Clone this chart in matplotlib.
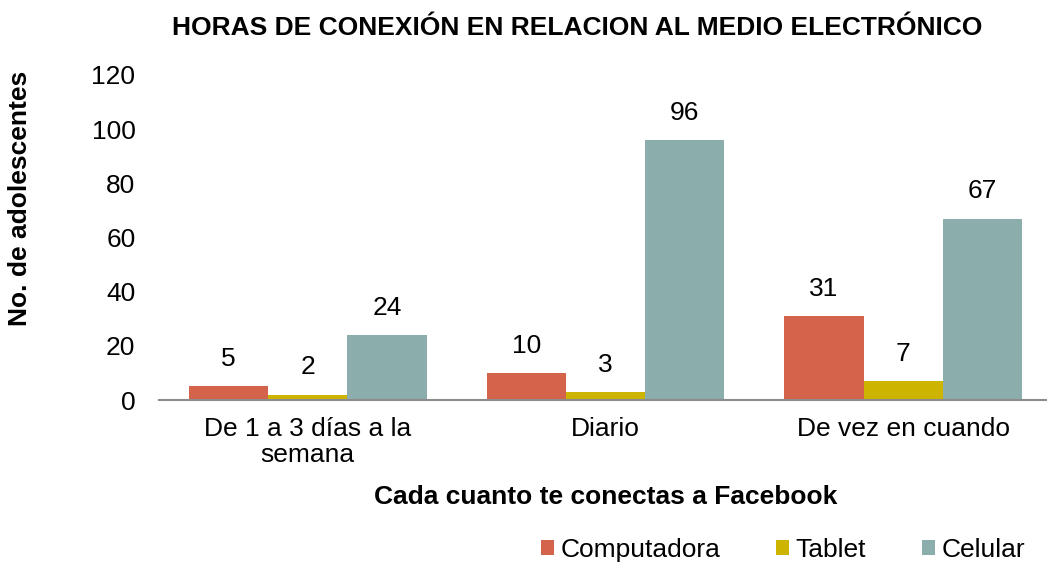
import matplotlib.pyplot as plt
import numpy as np

plt.rcParams['font.family'] = ['Liberation Sans', 'DejaVu Sans']

categories = ['De 1 a 3 días a la\nsemana', 'Diario', 'De vez en cuando']
series = ['Computadora', 'Tablet', 'Celular']
computadora = [5, 10, 31]
tablet = [2, 3, 7]
celular = [24, 96, 67]
colors = ['#D4634B', '#CCB400', '#8BAEAD']

fig = plt.figure(figsize=(10.47, 5.74), dpi=100)
ax = fig.add_axes([159 / 1047, 1 - 400 / 574, 893 / 1047, 325 / 574])

x = np.arange(len(categories))
w = 0.266
for i, (name, vals, c) in enumerate(zip(series, [computadora, tablet, celular], colors)):
    bars = ax.bar(x + (i - 1) * w, vals, w, color=c, label=name)
    for b, v in zip(bars, vals):
        ax.annotate(str(v), (b.get_x() + b.get_width() / 2, v),
                    xytext=(0, 11), textcoords='offset points',
                    ha='center', va='bottom', fontsize=19)

ax.set_xlim(-0.5, 2.5)
ax.set_ylim(0, 120)
ax.set_yticks(range(0, 121, 20))
ax.set_xticks(x)
ax.set_xticklabels(categories, linespacing=1.1)
ax.tick_params(axis='both', length=0, labelsize=19)
ax.tick_params(axis='y', pad=17)
ax.tick_params(axis='x', pad=12)

for s in ['top', 'right', 'left']:
    ax.spines[s].set_visible(False)
ax.spines['bottom'].set_color('#8c8c8c')
ax.spines['bottom'].set_linewidth(1.5)

ax.set_xlabel('Cada cuanto te conectas a Facebook', fontsize=19, fontweight='bold', labelpad=13)
fig.text(20 / 1047, 1 - 198 / 574, 'No. de adolescentes', rotation=90,
         ha='center', va='center', fontsize=19, fontweight='bold')
fig.text(577 / 1047, 1 - 28 / 574, 'HORAS DE CONEXIÓN EN RELACION AL MEDIO ELECTRÓNICO',
         ha='center', va='center', fontsize=19, fontweight='bold')

fig.legend(loc='center', bbox_to_anchor=(783 / 1047, 1 - 550 / 574), ncol=3, frameon=False,
           fontsize=19, handlelength=0.5, handleheight=0.5, handletextpad=0.25,
           columnspacing=2.1)

fig.savefig('out.png', dpi=100)
